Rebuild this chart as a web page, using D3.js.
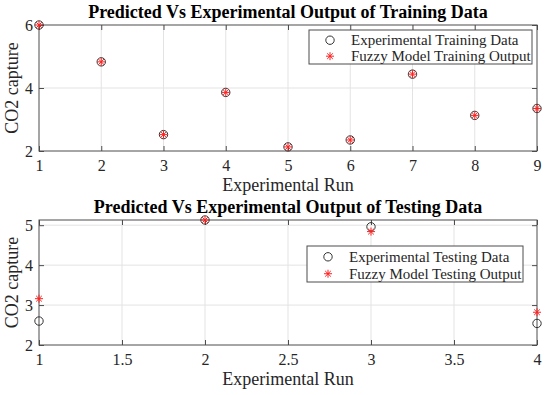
<!DOCTYPE html>
<html>
<head>
<meta charset="utf-8">
<script src="https://cdn.jsdelivr.net/npm/d3@7"></script>
<style>
  body { margin: 0; background: #fff; }
  svg { display: block; font-family: "Liberation Serif", "Times New Roman", serif; }
</style>
</head>
<body>
<svg id="chart" width="550" height="395"></svg>
<script>
// training data
const trainRuns = [1, 2, 3, 4, 5, 6, 7, 8, 9];
const trainExp = [6.0, 4.83, 2.52, 3.86, 2.13, 2.35, 4.44, 3.13, 3.35];
const trainFuzzy = [6.0, 4.83, 2.52, 3.86, 2.13, 2.35, 4.44, 3.13, 3.35];
const trainXTicks = [1, 2, 3, 4, 5, 6, 7, 8, 9];
const trainYTicks = [2, 4, 6];

// testing data
const testRuns = [1, 2, 3, 4];
const testExp = [2.6, 5.13, 4.96, 2.54];
const testFuzzy = [3.16, 5.13, 4.84, 2.82];
const testXTicks = [1, 1.5, 2, 2.5, 3, 3.5, 4];
const testYTicks = [2, 3, 4, 5];

const svg = d3.select('#chart');
const axisColor = '#4d4d4d';

const starPath = (r) => {
  const d = r * Math.SQRT1_2;
  return `M${-r},0L${r},0M0,${-r}L0,${r}M${-d},${-d}L${d},${d}M${-d},${d}L${d},${-d}`;
};

const drawPanel = ({
  top, bottom, xDomain, yDomain, xTicks, yTicks, runs, exp, fuzzy,
  title, legend, legendBox,
}) => {
  const left = 39;
  const right = 537;
  const x = d3.scaleLinear().domain(xDomain).range([left, right]);
  const y = d3.scaleLinear().domain(yDomain).range([bottom, top]);
  const g = svg.append('g');

  // grid
  g.append('g')
    .selectAll('line')
    .data(xTicks.filter((v) => v > xDomain[0] && v < xDomain[1]))
    .join('line')
    .attr('x1', (d) => x(d)).attr('x2', (d) => x(d))
    .attr('y1', top).attr('y2', bottom)
    .attr('stroke', '#e3e3e3');
  g.append('g')
    .selectAll('line')
    .data(yTicks.filter((v) => v > yDomain[0] && v < yDomain[1]))
    .join('line')
    .attr('y1', (d) => y(d)).attr('y2', (d) => y(d))
    .attr('x1', left).attr('x2', right)
    .attr('stroke', '#e3e3e3');

  // axes (ticks inside, box on)
  const tick = 5;
  const xb = d3.axisBottom(x).tickValues(xTicks).tickSizeInner(-tick).tickSizeOuter(0)
    .tickPadding(9).tickFormat(d3.format('~g'));
  const xt = d3.axisTop(x).tickValues(xTicks).tickSizeInner(-tick).tickSizeOuter(0).tickFormat('');
  const yl = d3.axisLeft(y).tickValues(yTicks).tickSizeInner(-tick).tickSizeOuter(0)
    .tickPadding(6).tickFormat(d3.format('~g'));
  const yr = d3.axisRight(y).tickValues(yTicks).tickSizeInner(-tick).tickSizeOuter(0).tickFormat('');

  const axes = [
    [xb, `translate(0,${bottom})`],
    [xt, `translate(0,${top})`],
    [yl, `translate(${left},0)`],
    [yr, `translate(${right},0)`],
  ];
  axes.forEach(([ax, tr]) => {
    const a = g.append('g').attr('transform', tr).call(ax);
    a.select('.domain').remove();
    a.selectAll('line').attr('stroke', axisColor);
    a.selectAll('text')
      .attr('font-family', '"Liberation Serif", serif')
      .attr('font-size', 16)
      .attr('fill', '#262626');
  });
  g.append('rect')
    .attr('x', left).attr('y', top)
    .attr('width', right - left).attr('height', bottom - top)
    .attr('fill', 'none').attr('stroke', axisColor).attr('stroke-width', 1);

  // labels
  g.append('text')
    .attr('x', (left + right) / 2).attr('y', top - 7)
    .attr('text-anchor', 'middle')
    .attr('font-size', 18).attr('font-weight', 'bold')
    .attr('fill', '#000')
    .text(title);
  g.append('text')
    .attr('x', (left + right) / 2).attr('y', bottom + 40)
    .attr('text-anchor', 'middle')
    .attr('font-size', 18).attr('fill', '#262626')
    .text('Experimental Run');
  g.append('text')
    .attr('transform', `translate(18,${(top + bottom) / 2}) rotate(-90)`)
    .attr('text-anchor', 'middle')
    .attr('font-size', 18).attr('fill', '#262626')
    .text('CO2 capture');

  // markers
  g.append('g')
    .selectAll('circle')
    .data(runs.map((r, i) => [r, exp[i]]))
    .join('circle')
    .attr('cx', (d) => x(d[0])).attr('cy', (d) => y(d[1]))
    .attr('r', 4.2)
    .attr('fill', 'none').attr('stroke', '#333').attr('stroke-width', 1);
  g.append('g')
    .selectAll('path')
    .data(runs.map((r, i) => [r, fuzzy[i]]))
    .join('path')
    .attr('transform', (d) => `translate(${x(d[0])},${y(d[1])})`)
    .attr('d', starPath(4))
    .attr('fill', 'none').attr('stroke', '#ff2020').attr('stroke-width', 1);

  // legend
  const [lx, ly, lw, lh] = legendBox;
  const lg = g.append('g');
  lg.append('rect')
    .attr('x', lx).attr('y', ly).attr('width', lw).attr('height', lh)
    .attr('fill', '#fff').attr('stroke', axisColor);
  const rowY = [ly + lh * 0.3, ly + lh * 0.77];
  lg.append('circle')
    .attr('cx', lx + 21).attr('cy', rowY[0]).attr('r', 4.2)
    .attr('fill', 'none').attr('stroke', '#333');
  lg.append('path')
    .attr('transform', `translate(${lx + 21},${rowY[1]})`)
    .attr('d', starPath(4))
    .attr('fill', 'none').attr('stroke', '#ff2020');
  lg.selectAll('text')
    .data(legend)
    .join('text')
    .attr('x', lx + 42)
    .attr('y', (d, i) => rowY[i])
    .attr('dy', '0.35em')
    .attr('font-size', 15)
    .attr('fill', '#262626')
    .text((d) => d);
};

drawPanel({
  top: 25,
  bottom: 151,
  xDomain: [1, 9],
  yDomain: [2, 6],
  xTicks: trainXTicks,
  yTicks: trainYTicks,
  runs: trainRuns,
  exp: trainExp,
  fuzzy: trainFuzzy,
  title: 'Predicted Vs Experimental Output of Training Data',
  legend: ['Experimental Training Data', 'Fuzzy Model Training Output'],
  legendBox: [309, 30, 223, 34],
});

drawPanel({
  top: 220,
  bottom: 345,
  xDomain: [1, 4],
  yDomain: [2, 5.13],
  xTicks: testXTicks,
  yTicks: testYTicks,
  runs: testRuns,
  exp: testExp,
  fuzzy: testFuzzy,
  title: 'Predicted Vs Experimental Output of Testing Data',
  legend: ['Experimental Testing Data', 'Fuzzy Model Testing Output'],
  legendBox: [307, 246, 216, 36],
});
</script>
</body>
</html>
